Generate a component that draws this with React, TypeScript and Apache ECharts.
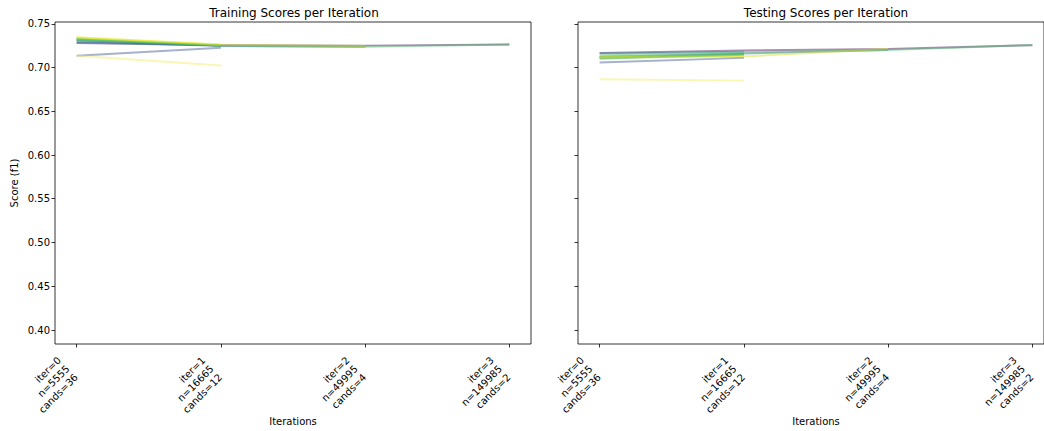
import React, { useEffect, useRef } from "react";
import * as echarts from "echarts";

// Tick labels for the four halving iterations (one entry per text line)
const iterLabels = [
  ["iter=0", "n=5555", "cands=36"],
  ["iter=1", "n=16665", "cands=12"],
  ["iter=2", "n=49995", "cands=4"],
  ["iter=3", "n=149985", "cands=2"],
];
const iterTicks = [0, 1, 2, 3];

const yTicks = [0.4, 0.45, 0.5, 0.55, 0.6, 0.65, 0.7, 0.75];

// Candidate colours (viridis)
const candidateColors = [
  "#440154", "#21918c", "#365c8d", "#277f8e", "#1fa187", "#4ac16d",
  "#a0da39", "#d0e11c", "#fde725", "#3b528b", "#f4ec5a", "#5ec962",
];

// Mean train score per candidate at each iteration (null = eliminated)
const trainScores: (number | null)[][] = [
  [0.728, 0.7255, 0.725, 0.7262],
  [0.7285, 0.7255, null, null],
  [0.73, 0.7245, 0.7237, null],
  [0.7315, 0.725, null, null],
  [0.732, 0.7252, null, null],
  [0.733, 0.725, 0.7237, 0.7262],
  [0.7335, 0.7258, null, null],
  [0.7342, 0.726, 0.7245, null],
  [0.7345, 0.7262, null, null],
  [0.7133, 0.7225, null, null],
  [0.7133, 0.7023, null, null],
  [0.732, 0.725, null, null],
];

// Mean test score per candidate at each iteration (null = eliminated)
const testScores: (number | null)[][] = [
  [0.7165, 0.7195, 0.7212, 0.7255],
  [0.716, 0.718, null, null],
  [0.712, 0.716, 0.72, null],
  [0.7107, 0.715, null, null],
  [0.7115, 0.7155, null, null],
  [0.7137, 0.7175, 0.72, 0.7258],
  [0.7125, 0.714, null, null],
  [0.712, 0.7125, 0.7215, null],
  [0.711, 0.713, null, null],
  [0.7057, 0.711, null, null],
  [0.6867, 0.685, null, null],
  [0.71, 0.7145, null, null],
];

const FONT = "DejaVu Sans";
const Y_MIN = 0.384;
const Y_MAX = 0.752;

function toPoints(vals: (number | null)[]) {
  const pts: [number, number][] = [];
  vals.forEach((v, i) => {
    if (v !== null) pts.push([i, v]);
  });
  return pts;
}

export default function App() {
  const ref = useRef<HTMLDivElement>(null);
  useEffect(() => {
    if (!ref.current) return;
    const chart = echarts.init(ref.current, undefined, { renderer: "svg" });

    const TOP = 22;
    const H = 322;
    const BOX_W = 476;
    const PAD = (BOX_W * 0.15) / 3.3;
    const INNER_W = BOX_W - 2 * PAD;
    const boxLefts = [55, 578];

    const grids: any[] = [];
    const xAxes: any[] = [];
    const yAxes: any[] = [];

    boxLefts.forEach((bl, p) => {
      grids.push({
        left: bl, top: TOP, width: BOX_W, height: H,
        show: true, borderColor: "#000", borderWidth: 0.8, backgroundColor: "transparent",
      });
      grids.push({ left: bl + PAD, top: TOP, width: INNER_W, height: H });

      xAxes.push({ type: "value", gridIndex: 2 * p, min: 0, max: 1, show: false });
      xAxes.push({
        type: "value",
        gridIndex: 2 * p + 1,
        min: 0,
        max: 3,
        interval: 1,
        name: "Iterations",
        nameLocation: "middle",
        nameGap: 72,
        nameTextStyle: { fontFamily: FONT, fontSize: 10, color: "#000" },
        axisLine: { show: false },
        axisTick: { show: true, length: 3.5, lineStyle: { color: "#000", width: 0.8 } },
        axisLabel: { show: false },
        splitLine: { show: false },
      });

      yAxes.push({
        type: "value",
        gridIndex: 2 * p,
        min: Y_MIN,
        max: Y_MAX,
        name: p === 0 ? "Score (f1)" : "",
        nameLocation: "middle",
        nameGap: 36,
        nameTextStyle: { fontFamily: FONT, fontSize: 10, color: "#000" },
        axisLine: { show: false },
        axisTick: { show: true, customValues: yTicks, length: 3.5, lineStyle: { color: "#000", width: 0.8 } },
        axisLabel: {
          show: p === 0,
          customValues: yTicks,
          fontFamily: FONT,
          fontSize: 10,
          color: "#000",
          margin: 5,
          formatter: (v: number) => v.toFixed(2),
        },
        splitLine: { show: false },
      });
      yAxes.push({ type: "value", gridIndex: 2 * p + 1, min: Y_MIN, max: Y_MAX, show: false });
    });

    const series: any[] = [];
    [trainScores, testScores].forEach((scores, p) => {
      scores.forEach((vals, i) => {
        series.push({
          type: "line",
          xAxisIndex: 2 * p + 1,
          yAxisIndex: 2 * p + 1,
          data: toPoints(vals),
          showSymbol: false,
          symbol: "none",
          clip: false,
          lineStyle: { color: candidateColors[i], width: 2, opacity: 0.45 },
          itemStyle: { color: candidateColors[i] },
        });
      });
    });

    chart.setOption({
      animation: false,
      backgroundColor: "#fff",
      title: [
        {
          text: "Training Scores per Iteration",
          left: 289,
          top: 2,
          textAlign: "center",
          textStyle: { fontFamily: FONT, fontSize: 12, fontWeight: "normal", color: "#000" },
        },
        {
          text: "Testing Scores per Iteration",
          left: 821,
          top: 2,
          textAlign: "center",
          textStyle: { fontFamily: FONT, fontSize: 12, fontWeight: "normal", color: "#000" },
        },
      ],
      grid: grids,
      xAxis: xAxes,
      yAxis: yAxes,
      series,
    });

    // Rotated multi-line tick labels at the axis' own tick positions,
    // one single-line text per line (lines shifted along the rotated "down" direction)
    const LINE_H = 12;
    const step = LINE_H * Math.SQRT1_2;
    const labelEls: any[] = [];
    [1, 3].forEach((axisIdx) => {
      iterTicks.forEach((t) => {
        const px = chart.convertToPixel({ xAxisIndex: axisIdx } as any, t) as unknown as number;
        const ax = px - 21;
        const ay = TOP + H + 11;
        iterLabels[t].forEach((line, k) => {
          labelEls.push({
            type: "text",
            x: ax + step * k,
            y: ay + step * k,
            rotation: Math.PI / 4,
            silent: true,
            style: {
              text: line,
              align: "right",
              verticalAlign: "top",
              fontFamily: FONT,
              fontSize: 10,
              fill: "#000",
            },
          });
        });
      });
    });
    chart.setOption({ graphic: labelEls });

    return () => chart.dispose();
  }, []);

  return (
    <div
      ref={ref}
      style={{ position: "absolute", left: 0, top: 0, width: 1044, height: 431 }}
    />
  );
}
